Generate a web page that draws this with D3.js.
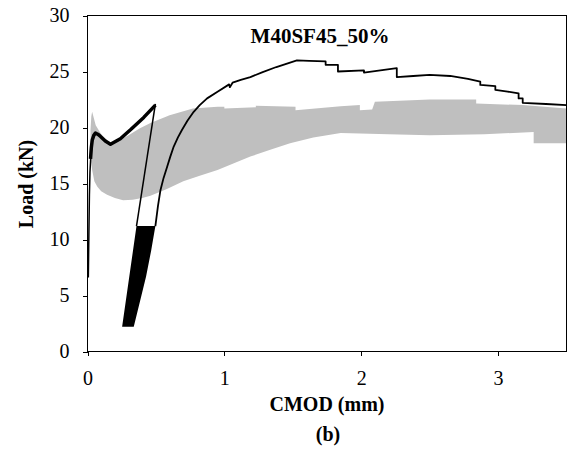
<!DOCTYPE html>
<html lang="en">
<head>
<meta charset="UTF-8">
<title>M40SF45_50%</title>
<script src="https://d3js.org/d3.v7.min.js"></script>
<style>
  body { margin: 0; background: #fff; }
  text { font-family: "Liberation Serif", "Times New Roman", serif; fill: #000; }
</style>
</head>
<body>
<script>
  // gray envelope of the other specimens, top edge then bottom edge  [CMOD mm, load kN]
  const bandTop = [
    [0.022, 19.8], [0.028, 21.0], [0.034, 21.4], [0.045, 20.9], [0.06, 20.2], [0.1, 19.4],
    [0.17, 18.5], [0.24, 18.9], [0.3, 19.3], [0.38, 19.9], [0.46, 20.4], [0.6, 21.1],
    [0.77, 21.7], [0.95, 21.85], [1.0, 21.85], [1.0, 21.7], [1.23, 21.8], [1.23, 21.95],
    [1.52, 21.85], [1.52, 21.55], [1.85, 21.9], [1.99, 22.0], [1.99, 21.55], [2.08, 21.6],
    [2.1, 22.3], [2.5, 22.5], [2.84, 22.5], [2.84, 22.15], [3.18, 22.0], [3.5, 21.7]
  ]
  const bandBottom = [
    [0.022, 18.0], [0.025, 17.0], [0.034, 16.2], [0.05, 15.2], [0.072, 14.7], [0.1, 14.3],
    [0.143, 14.0], [0.2, 13.7], [0.26, 13.5], [0.33, 13.55], [0.4, 13.7], [0.46, 13.9],
    [0.58, 14.5], [0.7, 15.2], [0.82, 15.7], [0.95, 16.2], [1.07, 16.8], [1.19, 17.4],
    [1.33, 18.0], [1.48, 18.6], [1.65, 19.1], [1.85, 19.5], [2.2, 19.4], [2.5, 19.3],
    [2.9, 19.4], [3.26, 19.6], [3.26, 18.6], [3.5, 18.6]
  ]

  // M40SF45_50% curve pieces
  const riseThin = [[0.006, 6.6], [0.01, 10.5], [0.014, 14.0], [0.018, 16.0], [0.024, 17.4]]
  const riseThick = [
    [0.022, 17.2], [0.028, 18.2], [0.035, 18.9], [0.046, 19.3], [0.058, 19.5], [0.075, 19.4],
    [0.095, 19.2], [0.13, 18.8], [0.168, 18.5], [0.24, 19.0], [0.314, 19.8], [0.411, 20.9],
    [0.496, 22.0]
  ]
  const unload = [[0.496, 22.1], [0.358, 11.2]]
  const block = [[0.253, 2.2], [0.338, 2.2], [0.39, 4.8], [0.428, 6.7], [0.465, 9.0], [0.496, 11.2], [0.358, 11.2]]
  const reload = [
    [0.496, 11.2], [0.515, 13.0], [0.533, 14.4], [0.556, 15.5], [0.582, 16.5], [0.605, 17.4],
    [0.63, 18.3], [0.66, 19.1], [0.691, 19.8], [0.73, 20.6], [0.776, 21.4], [0.82, 22.0],
    [0.874, 22.6], [0.95, 23.2], [1.035, 23.85], [1.04, 23.6], [1.06, 24.0], [1.12, 24.25],
    [1.19, 24.5], [1.28, 24.95], [1.38, 25.4], [1.48, 25.8], [1.53, 26.0], [1.62, 25.95],
    [1.74, 25.9], [1.74, 25.6], [1.83, 25.6], [1.83, 25.0], [2.02, 25.1], [2.02, 24.9],
    [2.14, 25.1], [2.26, 25.3], [2.26, 24.5], [2.38, 24.6], [2.5, 24.7], [2.65, 24.6],
    [2.78, 24.35], [2.87, 24.1], [2.87, 23.8], [2.98, 23.7], [2.98, 23.35], [3.07, 23.2],
    [3.15, 23.05], [3.15, 22.6], [3.18, 22.6], [3.18, 22.2], [3.35, 22.1], [3.5, 22.0]
  ]

  const xTicks = [0, 1, 2, 3]
  const yTicks = [0, 5, 10, 15, 20, 25, 30]

  const W = 569, H = 449

  const x = d3.scaleLinear().domain([0, 3.5]).range([87.5, 566.5])
  const y = d3.scaleLinear().domain([0, 30]).range([351.5, 15.5])

  const svg = d3.select("body").append("svg")
      .attr("width", W)
      .attr("height", H)

  const line = d3.line().x(d => x(d[0])).y(d => y(d[1]))

  // envelope
  svg.append("path")
      .attr("d", line(bandTop.concat(bandBottom.slice().reverse())) + "Z")
      .attr("fill", "#bfbfbf")
      .attr("stroke", "none")

  svg.append("path")
      .attr("d", line(block) + "Z")
      .attr("fill", "#000")

  svg.append("path")
      .attr("d", line(unload))
      .attr("fill", "none")
      .attr("stroke", "#000")
      .attr("stroke-width", 1.5)

  svg.append("path")
      .attr("d", line(reload))
      .attr("fill", "none")
      .attr("stroke", "#000")
      .attr("stroke-width", 1.8)
      .attr("stroke-linejoin", "round")

  svg.append("path")
      .attr("d", line(riseThin))
      .attr("fill", "none")
      .attr("stroke", "#000")
      .attr("stroke-width", 1.5)

  svg.append("path")
      .attr("d", line(riseThick))
      .attr("fill", "none")
      .attr("stroke", "#000")
      .attr("stroke-width", 3.5)
      .attr("stroke-linejoin", "round")

  // frame
  svg.append("rect")
      .attr("x", x(0)).attr("y", y(30))
      .attr("width", x(3.5) - x(0)).attr("height", y(0) - y(30))
      .attr("fill", "none")
      .attr("stroke", "#000")
      .attr("stroke-width", 1)
      .attr("shape-rendering", "crispEdges")

  const xAxis = svg.append("g")
      .attr("transform", "translate(0," + y(0) + ")")
      .call(d3.axisBottom(x).tickValues(xTicks).tickFormat(d3.format("d")).tickSize(4).tickSizeOuter(0).tickPadding(15))
  const yAxis = svg.append("g")
      .attr("transform", "translate(" + x(0) + ",0)")
      .call(d3.axisLeft(y).tickValues(yTicks).tickSize(5).tickSizeOuter(0).tickPadding(13))

  for (const g of [xAxis, yAxis]) {
    g.attr("font-family", null)
    g.select(".domain").remove()
    g.selectAll("line").attr("stroke", "#000").attr("shape-rendering", "crispEdges")
    g.selectAll("text")
        .attr("font-size", 20)
        .attr("fill", "#000")
  }

  svg.append("text")
      .attr("x", 327).attr("y", 411)
      .attr("text-anchor", "middle")
      .attr("font-size", 20).attr("font-weight", "bold")
      .text("CMOD (mm)")

  svg.append("text")
      .attr("transform", "translate(33," + 184 + ") rotate(-90)")
      .attr("text-anchor", "middle")
      .attr("font-size", 20).attr("font-weight", "bold")
      .text("Load (kN)")

  svg.append("text")
      .attr("x", 320).attr("y", 43)
      .attr("text-anchor", "middle")
      .attr("font-size", 21).attr("font-weight", "bold")
      .text("M40SF45_50%")

  svg.append("text")
      .attr("x", 328).attr("y", 441)
      .attr("text-anchor", "middle")
      .attr("font-size", 20).attr("font-weight", "bold")
      .text("(b)")
</script>
</body>
</html>
